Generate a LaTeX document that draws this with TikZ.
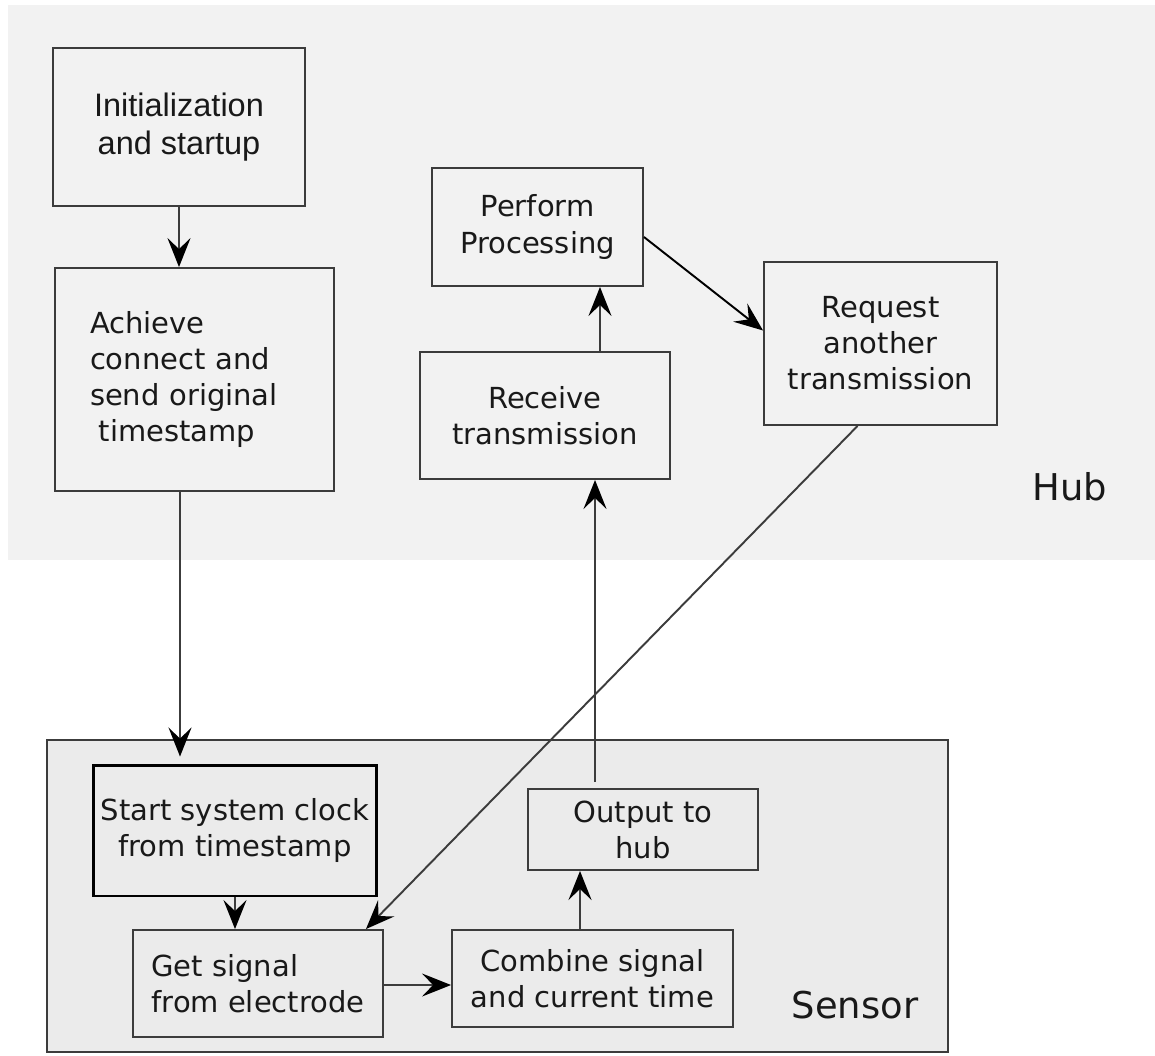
\documentclass[tikz,border=0pt]{standalone}
\usepackage{fontspec}
\setmainfont{DejaVu Sans}
\newfontfamily\arialfont{Liberation Sans}
\usetikzlibrary{arrows.meta}
\definecolor{hubgray}{HTML}{F2F2F2}
\definecolor{sensorgray}{HTML}{EBEBEB}
\definecolor{linegray}{HTML}{3C3C3C}

\begin{document}
\begin{tikzpicture}[x=0.02cm, y=-0.02cm,
    box/.style={rectangle, draw=linegray, line width=1.1pt, align=center, inner sep=2pt,
                font=\fontsize{16.5}{20.5}\selectfont, text=black!90},
    flow/.style={draw=linegray, line width=1.1pt, -{Stealth[length=0.58cm, width=0.46cm, inset=0.22cm, color=black]}},
    area/.style={font=\fontsize{21}{25}\selectfont, text=black!90}]
    \useasboundingbox (0,0) rectangle (1155,1055);

    % the two areas
    \fill[hubgray] (8,5) rectangle (1155,560);
    \draw[fill=sensorgray, draw=linegray, line width=1.1pt] (47,740) rectangle (948,1052);
    \node[area] (hub) at (1070,487) {Hub};
    \node[area] (sensor) at (855,1005) {Sensor};

    % hub side
    \node[box, minimum width=5.04cm, minimum height=3.16cm, font=\arialfont\fontsize{18.5}{21.5}\selectfont] (init) at (179,127) {Initialization\\and startup};
    \node[box, minimum width=5.58cm, minimum height=4.46cm, text width=4.18cm, align=left] (achieve) at (194.5,379.5) {Achieve\\connect and\\send original\\\hspace*{0.3em}timestamp};
    \node[box, minimum width=4.22cm, minimum height=2.36cm] (perform) at (537.5,227) {Perform\\Processing};
    \node[box, minimum width=5.00cm, minimum height=2.54cm] (receive) at (545,415.5) {Receive\\transmission};
    \node[box, minimum width=4.66cm, minimum height=3.26cm] (request) at (880.5,343.5) {Request\\another\\transmission};

    % sensor side
    \node[box, minimum width=5.68cm, minimum height=2.62cm, draw=black, line width=1.7pt] (clock) at (235,830.5) {Start system clock\\from timestamp};
    \node[box, minimum width=5.00cm, minimum height=2.14cm, align=left] (getsig) at (258,983.5) {Get signal\\from electrode};
    \node[box, minimum width=5.62cm, minimum height=1.94cm] (combine) at (592.5,978.5) {Combine signal\\and current time};
    \node[box, minimum width=4.60cm, minimum height=1.62cm] (output) at (643,829.5) {Output to\\hub};

    % connectors
    \draw[flow] (init.south) -- (init.south |- achieve.north);
    \draw[flow, shorten >=0.14cm] ([xshift=-0.29cm]achieve.south) coordinate (a1) -- (a1 |- clock.north);
    \draw[flow] (clock.south) -- (clock.south |- getsig.north);
    \draw[flow] ([yshift=-0.03cm]getsig.east) coordinate (g1) -- (g1 -| combine.west);
    \draw[flow] ([xshift=-0.25cm]combine.north) coordinate (c1) -- (c1 |- output.south);
    \draw[flow, shorten <=0.12cm] ([xshift=-0.96cm]output.north) coordinate (o1) -- (o1 |- receive.south);
    \draw[flow] ([xshift=1.1cm]receive.north) coordinate (r1) -- (r1 |- perform.south);
    \draw[flow, draw=black] ([yshift=-0.2cm]perform.east) -- ([yshift=0.26cm]request.west);
    \draw[flow] ([xshift=-0.46cm]request.south) -- ([xshift=-0.36cm]getsig.north east);
\end{tikzpicture}
\end{document}
